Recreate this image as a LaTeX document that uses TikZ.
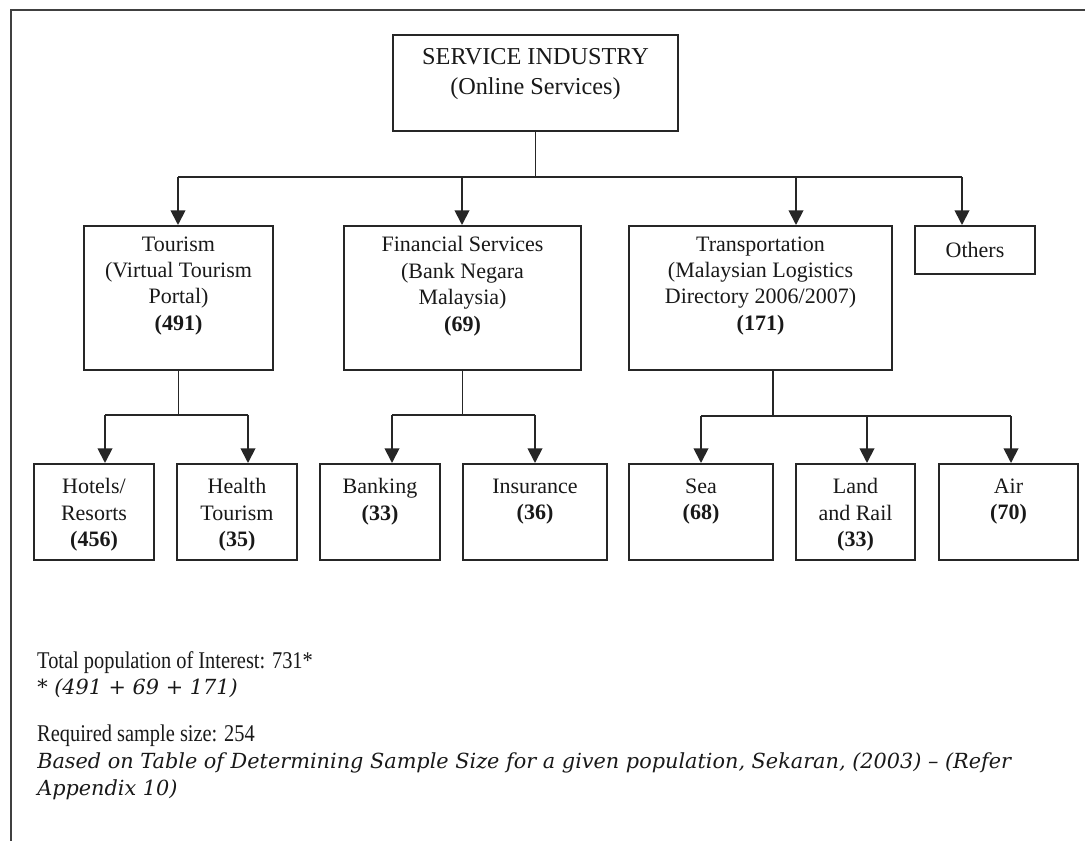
\documentclass[tikz,border=0pt]{standalone}
\usepackage{fontspec}
\setmainfont{Liberation Serif}
\newfontfamily\notefont{DejaVu Serif}
\usetikzlibrary{arrows.meta,fit}
\begin{document}
\begin{tikzpicture}[x=0.75pt,y=-0.75pt,
  box/.style={draw=black!85, line width=1.5pt, inner sep=0pt},
  lbl/.style={align=center, inner sep=0pt, anchor=north, text=black!90,
              font=\fontsize{16.5}{19.8}\selectfont},
  conn/.style={line width=1.4pt, draw=black!85},
  arr/.style={conn, -{Triangle[width=11pt,length=11pt]}},
  big/.style={anchor=base west, inner sep=0pt, text=black!90, xscale=0.85,
              font=\fontsize{18}{21}\selectfont},
  note/.style={anchor=base west, inner sep=0pt, text=black!90,
              font=\notefont\itshape\fontsize{15.6}{18}\selectfont}
]
\useasboundingbox (0,0) rectangle (1085,841);
\fill[white] (0,0) rectangle (1085,841);
% outer frame (top and left only)
\draw[line width=1.8pt, black!75] (1085,10) -- (11,10) -- (11,841);

% level 0
\node[box, fit={(393,35) (678,131)}] (top) {};
\node[lbl, font=\fontsize{18.2}{22.5}\selectfont] (top-t) at ([yshift=-10.5pt]top.north)
  {SERVICE INDUSTRY\\(Online Services)};

% level 1
\node[box, fit={(84,226) (273,370)}] (tour) {};
\node[lbl] (tour-t) at ([yshift=-8.5pt]tour.north)
  {Tourism\\(Virtual Tourism\\Portal)\\\textbf{(491)}};
\node[box, fit={(344,226) (581,370)}] (fin) {};
\node[lbl] (fin-t) at ([yshift=-8.5pt]fin.north)
  {Financial Services\\(Bank Negara\\Malaysia)\\\textbf{(69)}};
\node[box, fit={(629,226) (892,370)}] (trans) {};
\node[lbl] (trans-t) at ([yshift=-8.5pt]trans.north)
  {Transportation\\(Malaysian Logistics\\Directory 2006/2007)\\\textbf{(171)}};
\node[box, fit={(915,226) (1035,274)}] (oth) {};
\node[lbl, anchor=center] (oth-t) at (oth.center) {Others};

% level 2
\node[box, fit={(34,464) (154,560)}] (hotel) {};
\node[lbl] (hotel-t) at ([yshift=-11.5pt]hotel.north) {Hotels/\\Resorts\\\textbf{(456)}};
\node[box, fit={(177,464) (297,560)}] (health) {};
\node[lbl] (health-t) at ([yshift=-11.5pt]health.north) {Health\\Tourism\\\textbf{(35)}};
\node[box, fit={(320,464) (440,560)}] (bank) {};
\node[lbl] (bank-t) at ([yshift=-11.5pt]bank.north) {Banking\\\textbf{(33)}};
\node[box, fit={(463,464) (607,560)}] (ins) {};
\node[lbl] (ins-t) at ([yshift=-11.5pt]ins.north) {Insurance\\\textbf{(36)}};
\node[box, fit={(629,464) (773,560)}] (sea) {};
\node[lbl] (sea-t) at ([yshift=-11.5pt]sea.north) {Sea\\\textbf{(68)}};
\node[box, fit={(796,464) (915,560)}] (land) {};
\node[lbl] (land-t) at ([yshift=-11.5pt]land.north) {Land\\and Rail\\\textbf{(33)}};
\node[box, fit={(939,464) (1078,560)}] (air) {};
\node[lbl] (air-t) at ([yshift=-11.5pt]air.north) {Air\\\textbf{(70)}};

% connectors level 0 -> 1
\coordinate (b1) at (178,177);
\coordinate (b2) at (462,177);
\coordinate (b3) at (796,177);
\coordinate (b4) at (962,177);
\draw[conn] (top.south) -- (top.south |- b1);
\draw[conn] (b1) -- (b4);
\draw[arr] (b1) -- (b1 |- tour.north);
\draw[arr] (b2) -- (b2 |- fin.north);
\draw[arr] (b3) -- (b3 |- trans.north);
\draw[arr] (b4) -- (b4 |- oth.north);

% tourism -> children
\coordinate (ta) at (105,415);
\coordinate (tb) at (248,415);
\draw[conn] (tour.south) -- (tour.south |- ta);
\draw[conn] (ta) -- (tb);
\draw[arr] (ta) -- (ta |- hotel.north);
\draw[arr] (tb) -- (tb |- health.north);

% financial -> children
\coordinate (fa) at (392,415);
\coordinate (fb) at (535,415);
\draw[conn] (fin.south) -- (fin.south |- fa);
\draw[conn] (fa) -- (fb);
\draw[arr] (fa) -- (fa |- bank.north);
\draw[arr] (fb) -- (fb |- ins.north);

% transportation -> children
\coordinate (tra) at (701,416);
\coordinate (trb) at (867,416);
\coordinate (trc) at (1011,416);
\coordinate (trv) at (773,370);
\draw[conn] (trv) -- (trv |- tra);
\draw[conn] (tra) -- (trc);
\draw[arr] (tra) -- (tra |- sea.north);
\draw[arr] (trb) -- (trb |- land.north);
\draw[arr] (trc) -- (trc |- air.north);

% notes
\node[big] (total) at (37,668) {Total population of Interest: 731*};
\node[note] (sum) at (37,694) {* (491 + 69 + 171)};
\node[big] (req) at (37,741) {Required sample size: 254};
\node[note] (basis) at (37,768) {Based on Table of Determining Sample Size for a given population, Sekaran, (2003) – (Refer};
\node[note] (app) at (37,795) {Appendix 10)};
\end{tikzpicture}
\end{document}
